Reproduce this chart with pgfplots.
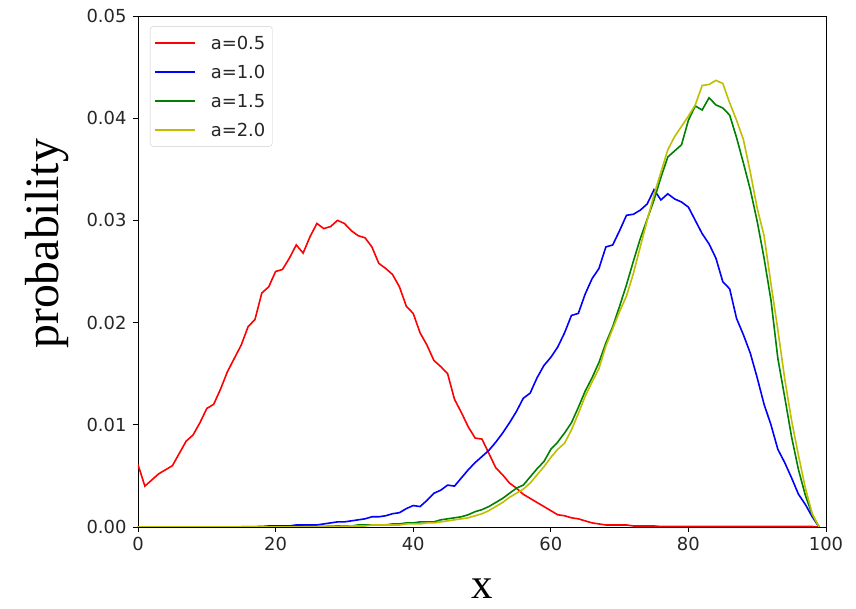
\documentclass[border=0pt]{standalone}
\usepackage{fontspec}
\setmainfont{DejaVu Sans}
\newfontfamily\lblfont{Liberation Serif}
\usepackage{pgfplots}
\usepackage{pgfplotstable}
\pgfplotsset{compat=1.18}
\definecolor{mplr}{rgb}{1,0,0}
\definecolor{mplb}{rgb}{0,0,1}
\definecolor{mplg}{rgb}{0,0.5,0}
\definecolor{mply}{rgb}{0.75,0.75,0}
\pgfplotstableread{
x r b g y
0 0.0061 0 0 0
1 0.0040 0 0 0
2 0.0046 0 0 0
3 0.0052 0 0 0
4 0.0056 0 0 0
5 0.0060 0 0 0
6 0.0072 0 0 0
7 0.0084 0 0 0
8 0.0090 0 0 0
9 0.0102 0 0 0
10 0.0116 0 0 0
11 0.0120 0 0 0
12 0.0135 0 0 0
13 0.0152 0 0 0
14 0.0165 0 0 0
15 0.0178 0.00002 0 0
16 0.0196 0.00003 0 0
17 0.0203 0.00004 0 0
18 0.0229 0.00005 0 0
19 0.0235 0.0001 0 0
20 0.0250 0.0001 0 0
21 0.0252 0.0001 0 0
22 0.0263 0.0001 0.00002 0
23 0.0276 0.0002 0.00003 0
24 0.0268 0.0002 0.00003 0.00002
25 0.0284 0.0002 0.00004 0.00003
26 0.0297 0.0002 0.00005 0.00003
27 0.0292 0.0003 0.00006 0.00004
28 0.0294 0.0004 0.00008 0.00005
29 0.0300 0.0005 0.0001 0.00006
30 0.0297 0.0005 0.0001 0.00008
31 0.0290 0.0006 0.0001 0.0001
32 0.0285 0.0007 0.0002 0.0001
33 0.0283 0.0008 0.0002 0.0001
34 0.0274 0.0010 0.0002 0.0002
35 0.0258 0.0010 0.0002 0.0002
36 0.0253 0.0011 0.0002 0.0002
37 0.0247 0.0013 0.0003 0.0002
38 0.0235 0.0014 0.0003 0.0002
39 0.0216 0.0018 0.0004 0.0003
40 0.0209 0.0021 0.0004 0.0003
41 0.0190 0.0020 0.0005 0.0003
42 0.0178 0.0026 0.0005 0.0004
43 0.0163 0.0033 0.0005 0.0004
44 0.0157 0.0036 0.0007 0.0005
45 0.0150 0.0041 0.0008 0.0006
46 0.0125 0.0040 0.0009 0.0007
47 0.0112 0.0048 0.0010 0.0008
48 0.0098 0.0056 0.0012 0.0009
49 0.0087 0.0063 0.0015 0.0011
50 0.0086 0.0069 0.0017 0.0013
51 0.0072 0.0075 0.0020 0.0016
52 0.0058 0.0083 0.0024 0.0020
53 0.0051 0.0092 0.0028 0.0024
54 0.0043 0.0102 0.0033 0.0029
55 0.0038 0.0113 0.0038 0.0033
56 0.0032 0.0126 0.0041 0.0037
57 0.0028 0.0131 0.0049 0.0043
58 0.0024 0.0146 0.0057 0.0051
59 0.0020 0.0158 0.0064 0.0059
60 0.0016 0.0166 0.0076 0.0068
61 0.0012 0.0176 0.0083 0.0076
62 0.0011 0.0190 0.0092 0.0082
63 0.0009 0.0207 0.0102 0.0095
64 0.0008 0.0209 0.0117 0.0111
65 0.0006 0.0228 0.0133 0.0128
66 0.0004 0.0243 0.0146 0.0142
67 0.0003 0.0253 0.0161 0.0155
68 0.0002 0.0274 0.0180 0.0177
69 0.0002 0.0276 0.0196 0.0194
70 0.0002 0.0290 0.0216 0.0211
71 0.0002 0.0305 0.0237 0.0226
72 0.0001 0.0306 0.0260 0.0248
73 0.0001 0.0310 0.0282 0.0274
74 0.0001 0.0316 0.0301 0.0300
75 0.0001 0.0330 0.0320 0.0325
76 0.00005 0.0320 0.0342 0.0347
77 0.00005 0.0326 0.0362 0.0369
78 0.00005 0.0321 0.0368 0.0382
79 0.00005 0.0318 0.0374 0.0392
80 0.00005 0.0313 0.0398 0.0402
81 0.00005 0.0300 0.0412 0.0413
82 0.00005 0.0287 0.0408 0.0432
83 0.00005 0.0277 0.0420 0.0433
84 0.00005 0.0263 0.0413 0.0437
85 0.00005 0.0240 0.0410 0.0434
86 0.00005 0.0233 0.0403 0.0415
87 0.00005 0.0204 0.0381 0.0398
88 0.00005 0.0188 0.0356 0.0379
89 0.00005 0.0170 0.0330 0.0347
90 0.00005 0.0146 0.0299 0.0312
91 0.00005 0.0120 0.0263 0.0285
92 0.00005 0.0100 0.0222 0.0238
93 0.00005 0.0076 0.0165 0.0193
94 0.00005 0.0063 0.0127 0.0145
95 0.00005 0.0048 0.0088 0.0104
96 0.00005 0.0032 0.0056 0.0070
97 0.00005 0.0022 0.0031 0.0038
98 0.00005 0.0010 0.0012 0.0013
99 0 0 0 0
}\datatable
\begin{document}
\begin{tikzpicture}
\begin{axis}[
  at={(0,0)}, anchor=south west,
  scale only axis, width=688bp, height=511bp,
  xmin=0, xmax=100, ymin=0, ymax=0.05,
  xtick={0,20,40,60,80,100},
  ytick={0,0.01,0.02,0.03,0.04,0.05},
  scaled y ticks=false,
  yticklabel style={/pgf/number format/fixed, /pgf/number format/fixed zerofill, /pgf/number format/precision=2, xshift=-3bp},
  xticklabel style={yshift=-2bp},
  /pgf/number format/assume math mode=true,
  tick label style={font=\fontsize{18}{20}\selectfont, text=black!85},
  tick align=outside, major tick length=5bp,
  xtick pos=bottom, ytick pos=left,
  axis line style={black, line width=0.9bp},
  every tick/.style={black, line width=0.9bp},
  xlabel={\lblfont x}, ylabel={\lblfont probability},
  every axis x label/.style={at={(axis description cs:0.5,-0.121)}, anchor=center, inner sep=0pt, font=\fontsize{43}{46}\selectfont},
  every axis y label/.style={at={(axis description cs:-0.1315,0.554)}, anchor=center, inner sep=0pt, rotate=90, font=\fontsize{48}{52}\selectfont},
  legend cell align=left,
  legend style={at={(axis description cs:0.0174,0.98)}, anchor=north west,
    draw=black!20, rounded corners=3bp, fill=white, fill opacity=0.8, text opacity=1,
    font=\fontsize{18}{20}\selectfont, text=black!85,
    row sep=10bp, inner xsep=4bp, inner ysep=7bp,
    nodes={inner sep=3bp, text height=13bp, text depth=0bp}},
  legend image code/.code={\draw[#1] (0bp,0bp) -- (40bp,0bp); \path (52bp,0bp);},
]
\addplot[mplr, line width=1.6bp] table[x=x, y=r] {\datatable};
\addlegendentry{a=0.5}
\addplot[mplb, line width=1.6bp] table[x=x, y=b] {\datatable};
\addlegendentry{a=1.0}
\addplot[mplg, line width=1.6bp] table[x=x, y=g] {\datatable};
\addlegendentry{a=1.5}
\addplot[mply, line width=1.6bp] table[x=x, y=y] {\datatable};
\addlegendentry{a=2.0}
\end{axis}
\pgfresetboundingbox
\path (-138bp,-82bp) rectangle (718bp,527bp);
\end{tikzpicture}
\end{document}
